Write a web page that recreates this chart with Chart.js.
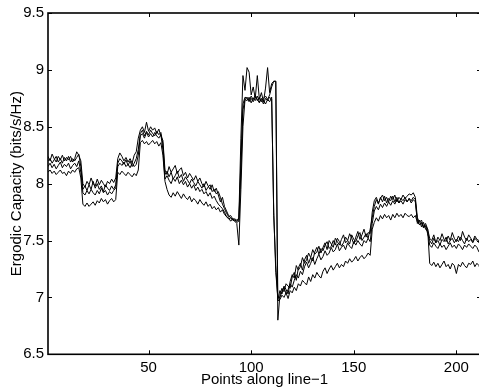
<!DOCTYPE html>
<html><head><meta charset="utf-8">
<script src="https://cdn.jsdelivr.net/npm/chart.js@4.4.0/dist/chart.umd.min.js"></script>
<style>html,body{margin:0;padding:0;overflow:hidden;background:#fff}</style>
</head><body>
<canvas id="c" width="483" height="389" style="display:block;width:483px;height:389px"></canvas>
<script>
const xTicks = [50, 100, 150, 200];
const yTicks = [6.5, 7, 7.5, 8, 8.5, 9, 9.5];
const yTickLabels = ['6.5', '7', '7.5', '8', '8.5', '9', '9.5'];
const xTitle = 'Points along line\u22121';
const yTitle = 'Ergodic Capacity (bits/s/Hz)';

const line1 = [
 8.24,8.2,8.26,8.22,8.19,8.24,8.21,8.25,8.2,8.23,8.21,8.24,8.19,8.22,8.28,8.25,8.2,
 8.0,7.97,8.02,7.99,8.05,8.0,7.98,8.04,7.99,8.03,8.0,7.97,8.02,8.0,8.04,8.01,8.05,
 8.22,8.27,8.24,8.2,8.23,8.19,8.22,8.18,8.25,8.28,8.4,
 8.47,8.5,8.45,8.54,8.46,8.5,8.47,8.49,8.44,8.48,8.42,8.38,
 8.12,8.08,8.15,8.1,8.13,8.16,8.09,8.12,8.14,8.07,8.1,8.05,8.09,8.06,8.03,8.07,8.02,8.05,8.0,7.97,8.02,7.98,7.95,7.99,7.93,7.96,7.9,7.84,7.88,7.8,7.76,7.72,7.7,7.68,
 7.68,7.67,7.7,8.4,8.95,8.82,
 9.02,8.98,8.78,8.85,8.75,8.95,8.74,8.8,8.72,8.84,9.02,8.8,8.88,8.9,8.9,
 6.8,
 7.02,7.08,7.05,7.12,7.1,7.08,7.18,7.22,7.15,7.26,7.3,7.24,7.33,7.37,7.3,7.35,7.42,7.38,7.4,7.45,7.39,7.44,7.48,7.42,7.5,7.47,7.44,7.52,7.49,7.46,7.51,7.55,7.48,7.5,7.56,7.52,7.47,7.53,7.58,7.51,7.55,7.6,7.53,7.57,7.56,
 7.75,
 7.85,7.88,7.83,7.87,7.9,7.85,7.88,7.84,7.89,7.86,7.9,7.84,7.88,7.86,7.9,7.87,7.89,7.91,7.9,7.92,7.88,
 7.7,7.66,7.68,7.62,7.65,7.6,
 7.52,7.5,7.55,7.48,7.53,7.5,7.56,7.51,7.49,7.54,7.5,7.57,7.52,7.49,7.54,7.5,7.58,7.53,7.5,7.55,7.52,7.49,7.54,7.51,7.5,7.5
];
const line2 = [
 8.2,8.22,8.18,8.21,8.24,8.19,8.22,8.18,8.23,8.2,8.24,8.19,8.22,8.2,8.23,8.26,8.15,
 7.95,7.98,7.94,7.99,7.95,8.02,7.96,8.0,7.95,7.98,7.93,7.99,7.96,7.94,7.98,7.95,7.99,
 8.18,8.22,8.2,8.17,8.21,8.16,8.2,8.15,8.18,8.22,8.3,
 8.44,8.47,8.42,8.46,8.43,8.47,8.44,8.42,8.46,8.43,8.45,8.35,
 8.08,8.11,8.06,8.1,8.04,8.07,8.11,8.05,8.08,8.02,8.06,8.03,8.0,8.04,8.01,7.98,8.02,7.99,7.96,8.0,7.94,7.97,7.99,7.93,7.95,7.91,7.93,7.88,7.82,7.78,7.74,7.71,7.72,7.69,
 7.69,7.68,7.68,8.2,8.7,8.76,
 8.75,8.72,8.77,8.74,8.78,8.73,8.76,8.72,8.75,8.77,8.74,8.78,8.85,8.9,8.9,
 6.98,
 7.06,7.03,7.1,7.07,7.03,7.14,7.2,7.17,7.28,7.24,7.27,7.35,7.3,7.33,7.39,7.35,7.32,7.4,7.44,7.38,7.43,7.41,7.46,7.49,7.43,7.45,7.5,7.46,7.52,7.49,7.45,7.48,7.53,7.5,7.47,7.55,7.51,7.49,7.54,7.57,7.5,7.53,7.56,7.52,7.6,
 7.7,
 7.8,7.86,7.82,7.88,7.84,7.89,7.83,7.87,7.85,7.89,7.84,7.88,7.83,7.87,7.85,7.88,7.84,7.87,7.85,7.88,7.86,
 7.65,7.68,7.62,7.66,7.6,7.58,
 7.46,7.44,7.48,7.45,7.43,7.47,7.44,7.46,7.42,7.45,7.48,7.44,7.46,7.43,7.47,7.45,7.42,7.46,7.44,7.47,7.45,7.43,7.46,7.44,7.4,7.38
];
const line3 = [
 8.15,8.18,8.14,8.17,8.13,8.16,8.19,8.14,8.17,8.15,8.18,8.13,8.16,8.18,8.15,8.2,8.1,
 7.92,7.9,7.94,7.91,7.95,7.92,7.9,7.94,7.91,7.96,7.92,7.94,7.9,7.93,7.91,7.94,7.96,
 8.15,8.18,8.16,8.19,8.15,8.17,8.14,8.18,8.15,8.17,8.25,
 8.42,8.44,8.4,8.45,8.41,8.44,8.41,8.45,8.42,8.4,8.43,8.3,
 8.04,8.07,8.03,8.0,8.05,8.02,8.06,8.0,8.03,7.99,8.02,7.97,8.0,7.96,7.99,7.94,7.97,7.93,7.95,7.91,7.93,7.89,7.92,7.87,7.89,7.85,7.82,7.8,7.78,7.75,7.71,7.7,7.67,7.69,
 7.68,7.66,7.67,8.1,8.65,8.74,
 8.73,8.76,8.71,8.75,8.73,8.77,8.72,8.74,8.7,8.75,8.73,8.76,8.74,7.75,7.22,
 7.0,
 7.0,7.05,7.09,7.03,7.07,7.12,7.09,7.15,7.2,7.17,7.23,7.2,7.27,7.31,7.26,7.3,7.35,7.29,7.34,7.38,7.33,7.36,7.41,7.37,7.39,7.44,7.4,7.42,7.47,7.41,7.44,7.46,7.42,7.48,7.45,7.43,7.49,7.46,7.5,7.47,7.45,7.5,7.48,7.52,7.49,
 7.65,
 7.76,7.8,7.77,7.82,7.79,7.83,7.8,7.84,7.81,7.85,7.82,7.86,7.83,7.85,7.82,7.86,7.84,7.87,7.83,7.86,7.84,
 7.68,7.64,7.66,7.61,7.63,7.56,
 7.5,7.47,7.52,7.48,7.5,7.46,7.51,7.49,7.53,7.47,7.5,7.52,7.48,7.51,7.49,7.53,7.5,7.47,7.52,7.49,7.51,7.48,7.52,7.5,7.48,7.47
];
const line4 = [
 8.1,8.12,8.09,8.11,8.08,8.1,8.12,8.09,8.1,8.07,8.11,8.09,8.12,8.1,8.13,8.14,8.05,
 7.82,7.8,7.83,7.8,7.82,7.84,7.81,7.85,7.83,7.87,7.84,7.86,7.82,7.85,7.87,7.84,7.86,
 8.1,8.08,8.11,8.09,8.07,8.1,8.08,8.06,8.09,8.07,8.12,
 8.36,8.38,8.35,8.37,8.34,8.36,8.38,8.35,8.37,8.33,8.36,8.25,
 8.02,7.95,7.9,7.88,7.92,7.89,7.93,7.9,7.87,7.91,7.88,7.86,7.89,7.84,7.87,7.85,7.82,7.86,7.83,7.81,7.84,7.8,7.82,7.78,7.8,7.77,7.79,7.75,7.77,7.73,7.71,7.69,7.7,7.68,
 7.67,7.65,7.46,7.95,8.5,8.74,
 8.76,8.73,8.75,8.72,8.76,8.74,8.71,8.75,8.73,8.7,8.74,8.72,8.76,7.72,7.28,
 6.97,
 6.98,7.02,7.0,7.04,6.99,7.06,7.04,7.09,7.06,7.12,7.1,7.15,7.13,7.11,7.18,7.14,7.2,7.17,7.22,7.19,7.17,7.23,7.26,7.21,7.25,7.28,7.24,7.27,7.3,7.26,7.29,7.27,7.32,7.3,7.34,7.31,7.33,7.36,7.32,7.35,7.37,7.34,7.36,7.39,7.37,
 7.6,
 7.66,7.7,7.67,7.72,7.69,7.73,7.7,7.72,7.68,7.73,7.7,7.74,7.71,7.73,7.7,7.74,7.72,7.71,7.73,7.7,7.72,
 7.66,7.64,7.65,7.62,7.63,7.6,
 7.3,7.28,7.31,7.27,7.3,7.26,7.29,7.32,7.27,7.29,7.25,7.3,7.28,7.21,7.29,7.27,7.31,7.28,7.26,7.3,7.29,7.32,7.27,7.3,7.28,7.22
];
const seriesList = [line1, line2, line3, line4];

const font = {family: "'Liberation Sans', Arial, sans-serif", size: 15};

const framePlugin = {
  id: 'frame',
  afterDatasetsDraw(chart) {
    const {ctx, chartArea: a, scales: {x, y}} = chart;
    const t = 4;
    ctx.save();
    ctx.strokeStyle = '#000';
    ctx.lineWidth = 1;
    ctx.beginPath();
    xTicks.forEach(v => {
      const px = Math.round(x.getPixelForValue(v)) + 0.5;
      ctx.moveTo(px, a.bottom); ctx.lineTo(px, a.bottom - t);
      ctx.moveTo(px, a.top); ctx.lineTo(px, a.top + t);
    });
    yTicks.forEach(v => {
      const py = Math.round(y.getPixelForValue(v)) + 0.5;
      ctx.moveTo(a.left, py); ctx.lineTo(a.left + t, py);
      ctx.moveTo(a.right, py); ctx.lineTo(a.right - t, py);
    });
    ctx.stroke();
    ctx.lineWidth = 1.6;
    ctx.strokeRect(a.left, a.top, a.right - a.left, a.bottom - a.top);
    ctx.restore();
  }
};

new Chart(document.getElementById('c'), {
  type: 'line',
  data: {
    datasets: seriesList.map(s => ({
      data: s.map((v, i) => ({x: i + 1, y: v})),
      borderColor: '#000',
      borderWidth: 1,
      pointRadius: 0,
      fill: false,
      tension: 0
    }))
  },
  options: {
    responsive: false,
    animation: false,
    devicePixelRatio: 1,
    layout: {padding: {top: 12.7, right: 2, left: 0, bottom: 0}},
    plugins: {legend: {display: false}, tooltip: {enabled: false}},
    scales: {
      x: {
        type: 'linear', min: 1, max: 212,
        grid: {display: false, drawTicks: false},
        border: {display: false},
        afterBuildTicks: s => { s.ticks = xTicks.map(v => ({value: v})); },
        afterFit: s => { s.height = 34.7; },
        ticks: {padding: 5, autoSkip: false, maxRotation: 0, color: '#000', font},
        title: {display: true, text: xTitle, color: '#000', font, padding: {top: 0, bottom: 0}}
      },
      y: {
        type: 'linear', min: 6.5, max: 9.5,
        grid: {display: false, drawTicks: false},
        border: {display: false},
        afterBuildTicks: s => { s.ticks = yTicks.map(v => ({value: v})); },
        afterFit: s => { s.width = 48; },
        ticks: {padding: 4, color: '#000', font,
          callback: (v) => { const k = yTicks.indexOf(v); return k >= 0 ? yTickLabels[k] : String(v); }},
        title: {display: true, text: yTitle, color: '#000', font, padding: {top: 7.5, bottom: 0}}
      }
    }
  },
  plugins: [framePlugin]
});
</script>
</body></html>
